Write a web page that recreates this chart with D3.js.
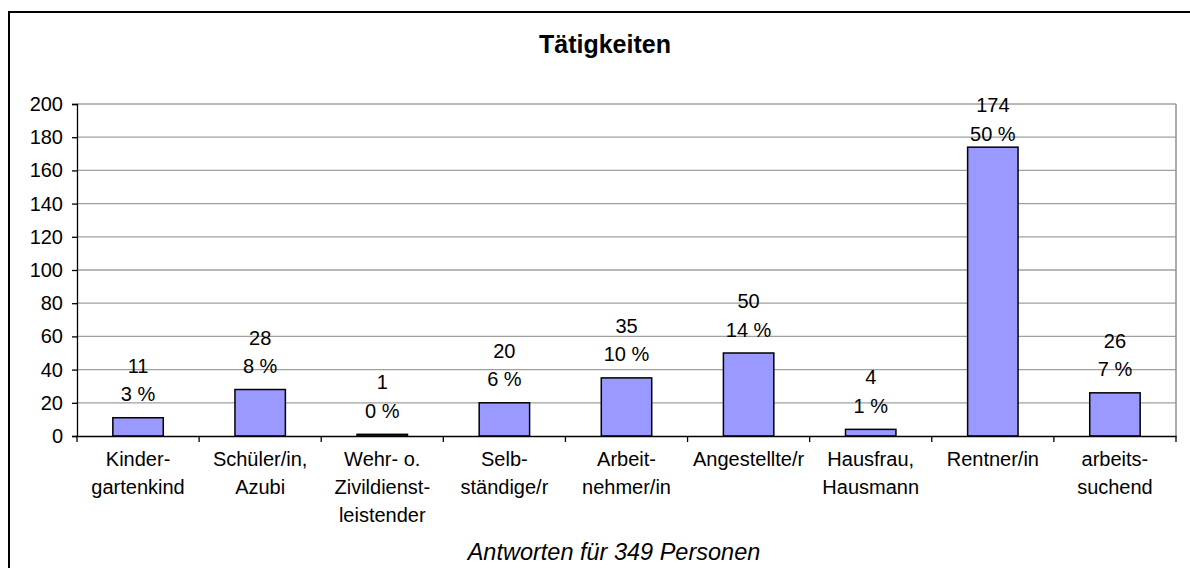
<!DOCTYPE html>
<html>
<head>
<meta charset="utf-8">
<script src="https://cdn.jsdelivr.net/npm/d3@7/dist/d3.min.js"></script>
<style>
  html, body { margin: 0; padding: 0; background: #fff; }
  svg { display: block; font-family: "Liberation Sans", Arial, sans-serif; }
</style>
</head>
<body>
<svg id="chart" width="1190" height="568"></svg>
<script>
const categories = ["Kindergartenkind", "Schüler/in, Azubi", "Wehr- o. Zivildienstleistender", "Selbständige/r", "Arbeitnehmer/in", "Angestellte/r", "Hausfrau, Hausmann", "Rentner/in", "arbeitssuchend"];
const categoryLines = [["Kinder-", "gartenkind"], ["Schüler/in,", "Azubi"], ["Wehr- o.", "Zivildienst-", "leistender"], ["Selb-", "ständige/r"], ["Arbeit-", "nehmer/in"], ["Angestellte/r"], ["Hausfrau,", "Hausmann"], ["Rentner/in"], ["arbeits-", "suchend"]];
const values = [11, 28, 1, 20, 35, 50, 4, 174, 26];
const percentLabels = ["3 %", "8 %", "0 %", "6 %", "10 %", "14 %", "1 %", "50 %", "7 %"];
const yTicks = [0, 20, 40, 60, 80, 100, 120, 140, 160, 180, 200];
const title = "Tätigkeiten";
const axisTitle = "Antworten für 349 Personen";

const svg = d3.select("#chart");
const plot = { left: 77, right: 1176, top: 104, bottom: 436 };

// outer chart border
svg.append("rect")
  .attr("x", 9).attr("y", 12)
  .attr("width", 1200).attr("height", 600)
  .attr("fill", "#fff").attr("stroke", "#000").attr("stroke-width", 2);

const x = d3.scaleBand().domain(categories).range([plot.left, plot.right]).padding(0);
const y = d3.scaleLinear().domain([0, 200]).range([plot.bottom, plot.top]);

// gridlines
svg.append("g").selectAll("line").data(yTicks.filter(d => d > 0)).join("line")
  .attr("x1", plot.left).attr("x2", plot.right)
  .attr("y1", d => y(d)).attr("y2", d => y(d))
  .attr("stroke", "#a0a0a0").attr("stroke-width", 1.3);

// plot area right border
svg.append("line")
  .attr("x1", plot.right).attr("x2", plot.right)
  .attr("y1", plot.top).attr("y2", plot.bottom)
  .attr("stroke", "#909090").attr("stroke-width", 1.5);

// bars
const barW = x.bandwidth() * 0.413;
svg.append("g").selectAll("rect").data(values).join("rect")
  .attr("x", (d, i) => x(categories[i]) + x.bandwidth() / 2 - barW / 2)
  .attr("y", d => y(d))
  .attr("width", barW)
  .attr("height", d => y(0) - y(d))
  .attr("fill", "#9999ff")
  .attr("stroke", "#000").attr("stroke-width", 1.5);

// y axis
const yAxis = svg.append("g").attr("transform", `translate(${plot.left},0)`)
  .call(d3.axisLeft(y).tickValues(yTicks).tickSize(5).tickPadding(9));
yAxis.select(".domain").attr("stroke", "#000").attr("stroke-width", 1.3);
yAxis.selectAll(".tick line").attr("stroke", "#000").attr("stroke-width", 1.3);
yAxis.selectAll(".tick text").attr("font-size", 20).attr("fill", "#000")
  .attr("font-family", "Liberation Sans, Arial, sans-serif");

// x axis
const xAxis = svg.append("g").attr("transform", `translate(0,${plot.bottom})`)
  .call(d3.axisBottom(x).tickSize(0).tickFormat(""));
xAxis.select(".domain").attr("stroke", "#000").attr("stroke-width", 1.5);
const boundaries = categories.map(c => x(c)).concat([plot.right]);
xAxis.selectAll(".bnd").data(boundaries).join("line").attr("class", "bnd")
  .attr("x1", d => d).attr("x2", d => d)
  .attr("y1", 0).attr("y2", 6)
  .attr("stroke", "#000").attr("stroke-width", 1.3);

// category labels
const catG = svg.append("g").attr("font-size", 20).attr("text-anchor", "middle").attr("fill", "#000");
categoryLines.forEach((lines, i) => {
  const t = catG.append("text").attr("x", x(categories[i]) + x.bandwidth() / 2);
  lines.forEach((ln, j) => {
    t.append("tspan").attr("x", x(categories[i]) + x.bandwidth() / 2)
      .attr("y", 466 + j * 28).text(ln);
  });
});

// data labels
const lblG = svg.append("g").attr("font-size", 20).attr("text-anchor", "middle").attr("fill", "#000");
values.forEach((v, i) => {
  const cx = x(categories[i]) + x.bandwidth() / 2;
  const vy = Math.max(y(v) - 45, y(200) + 8);
  lblG.append("text").attr("x", cx).attr("y", vy).text(v);
  lblG.append("text").attr("x", cx).attr("y", vy + 28.5).text(percentLabels[i]);
});

// title
svg.append("text").attr("x", 605).attr("y", 52.5)
  .attr("text-anchor", "middle").attr("font-size", 25).attr("font-weight", "bold")
  .text(title);

// axis title
svg.append("text").attr("x", 614).attr("y", 560)
  .attr("text-anchor", "middle").attr("font-size", 23.5).attr("font-style", "italic")
  .text(axisTitle);
</script>
</body>
</html>
